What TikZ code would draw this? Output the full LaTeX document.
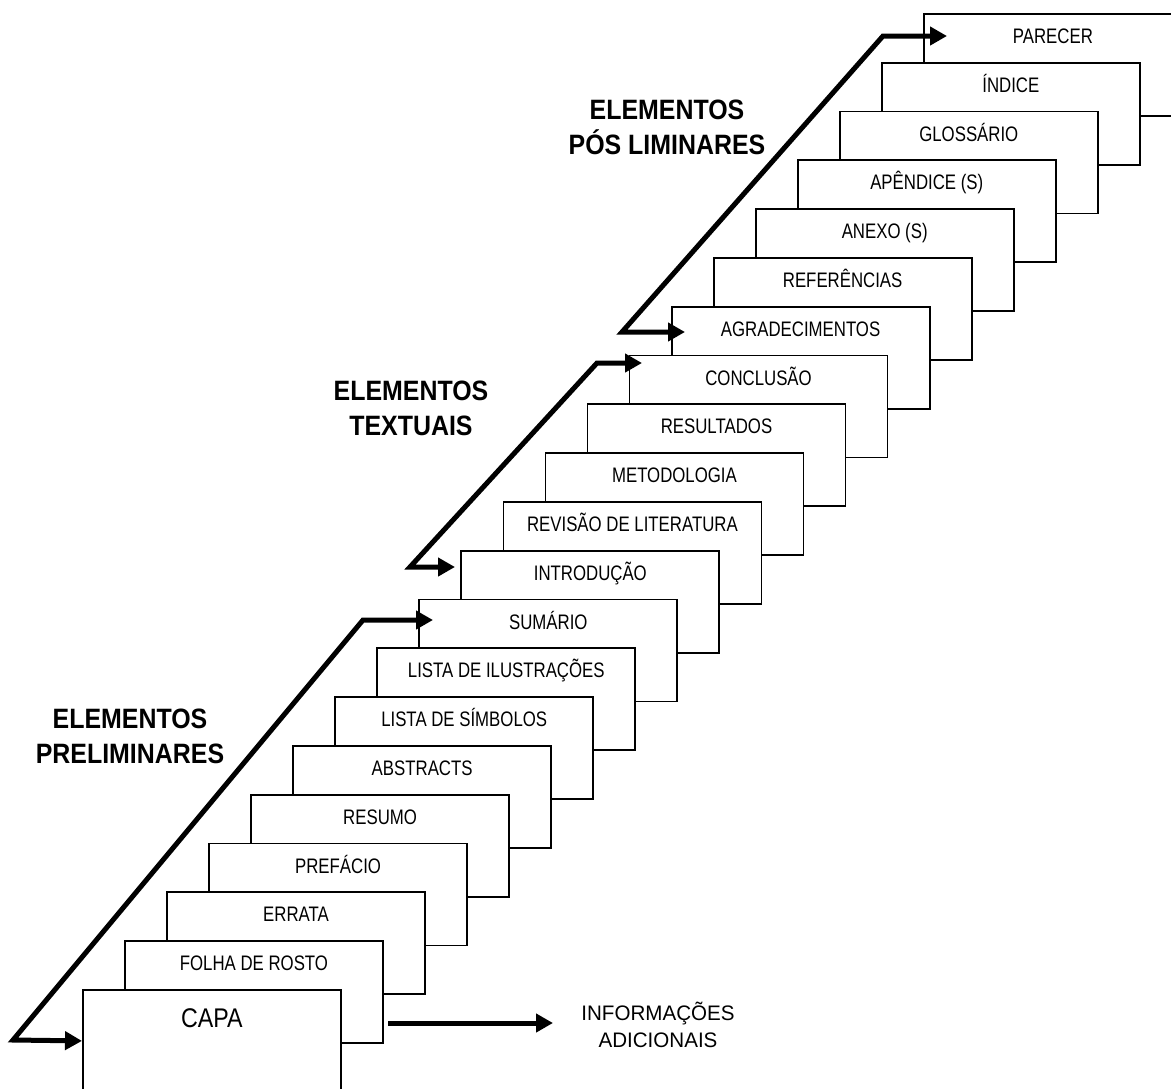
\documentclass[tikz,border=0pt]{standalone}
\usepackage{fontspec}
\setmainfont{Liberation Sans}
\newfontfamily\labfont{Liberation Sans}[FakeStretch=0.80]
\newfontfamily\capafont{Liberation Sans}[FakeStretch=0.86]
\newfontfamily\titfont{Liberation Sans Bold}[FakeStretch=0.89]
\newfontfamily\infofont{Liberation Sans}[FakeStretch=0.98]
\usetikzlibrary{arrows.meta}
\begin{document}
\begin{tikzpicture}[x=1pt,y=-1pt,
  pagebox/.style={draw, line width=1.8pt, fill=white, minimum width=258pt,
    minimum height=102pt, inner sep=0pt, anchor=north west},
  lab/.style={font=\labfont\fontsize{21}{25}\selectfont, anchor=base, inner sep=0pt},
  capalab/.style={font=\capafont\fontsize{27}{32}\selectfont, anchor=base, inner sep=0pt},
  title/.style={font=\titfont\fontsize{28}{35}\selectfont, align=center, inner sep=0pt},
  info/.style={font=\infofont\fontsize{21}{27}\selectfont, align=center, inner sep=0pt},
  stair/.style={line width=5pt, line join=miter,
    {Triangle[length=17pt,width=18pt]}-{Triangle[length=17pt,width=18pt]}},
  fwd/.style={line width=5pt, -{Triangle[length=17pt,width=18pt]}}]
\useasboundingbox (0,0) rectangle (1171,1088);
% pages, from the back one to the front one
\foreach \i/\t in {20/PARECER,19/ÍNDICE,18/GLOSSÁRIO,17/APÊNDICE (S),16/ANEXO (S),
  15/REFERÊNCIAS,14/AGRADECIMENTOS,13/CONCLUSÃO,12/RESULTADOS,11/METODOLOGIA,
  10/REVISÃO DE LITERATURA,9/INTRODUÇÃO,8/SUMÁRIO,7/LISTA DE ILUSTRAÇÕES,
  6/LISTA DE SÍMBOLOS,5/ABSTRACTS,4/RESUMO,3/PREFÁCIO,2/ERRATA,1/FOLHA DE ROSTO}{
  \pgfmathsetmacro\bx{82+42.05*\i}
  \pgfmathsetmacro\by{989-48.8*\i}
  \node[pagebox] (b\i) at (\bx,\by) {};
  \path (b\i.north) ++(0,30.5) node[lab] (l\i) {\t};
}
\node[pagebox] (b0) at (82,989) {};
\path (b0.north) ++(0,38) node[capalab] (l0) {CAPA};
% titles
\node[title] (t1) at (130,736) {ELEMENTOS\\PRELIMINARES};
\node[title] (t2) at (411,408) {ELEMENTOS\\TEXTUAIS};
\node[title] (t3) at (667,127) {ELEMENTOS\\PÓS LIMINARES};
% stair arrows
\coordinate (a1top) at (433,620);
\coordinate (a1u) at (363,620);
\coordinate (a1d) at (13,1040);
\draw[stair] (a1top) -- (a1u) -- (a1d) -- (b0.west);
\coordinate (a2bot) at (455,567);
\coordinate (a2d) at (410,567);
\coordinate (a2u) at (597,363);
\coordinate (a2top) at (642,363);
\draw[stair] (a2bot) -- (a2d) -- (a2u) -- (a2top);
\coordinate (a3bot) at (685,332);
\coordinate (a3d) at (622,332);
\coordinate (a3u) at (883,36);
\coordinate (a3top) at (947,36);
\draw[stair] (a3bot) -- (a3d) -- (a3u) -- (a3top);
% additional information
\begin{scope}
\clip (540,990) rectangle (790,1047);
\node[info, anchor=north] (inf) at (658,1002) {INFORMAÇÕES\\ADICIONAIS};
\end{scope}
\coordinate (infstart) at (388,1023);
\coordinate (infend) at (553,1023);
\draw[fwd] (infstart) -- (infend);
\end{tikzpicture}
\end{document}
